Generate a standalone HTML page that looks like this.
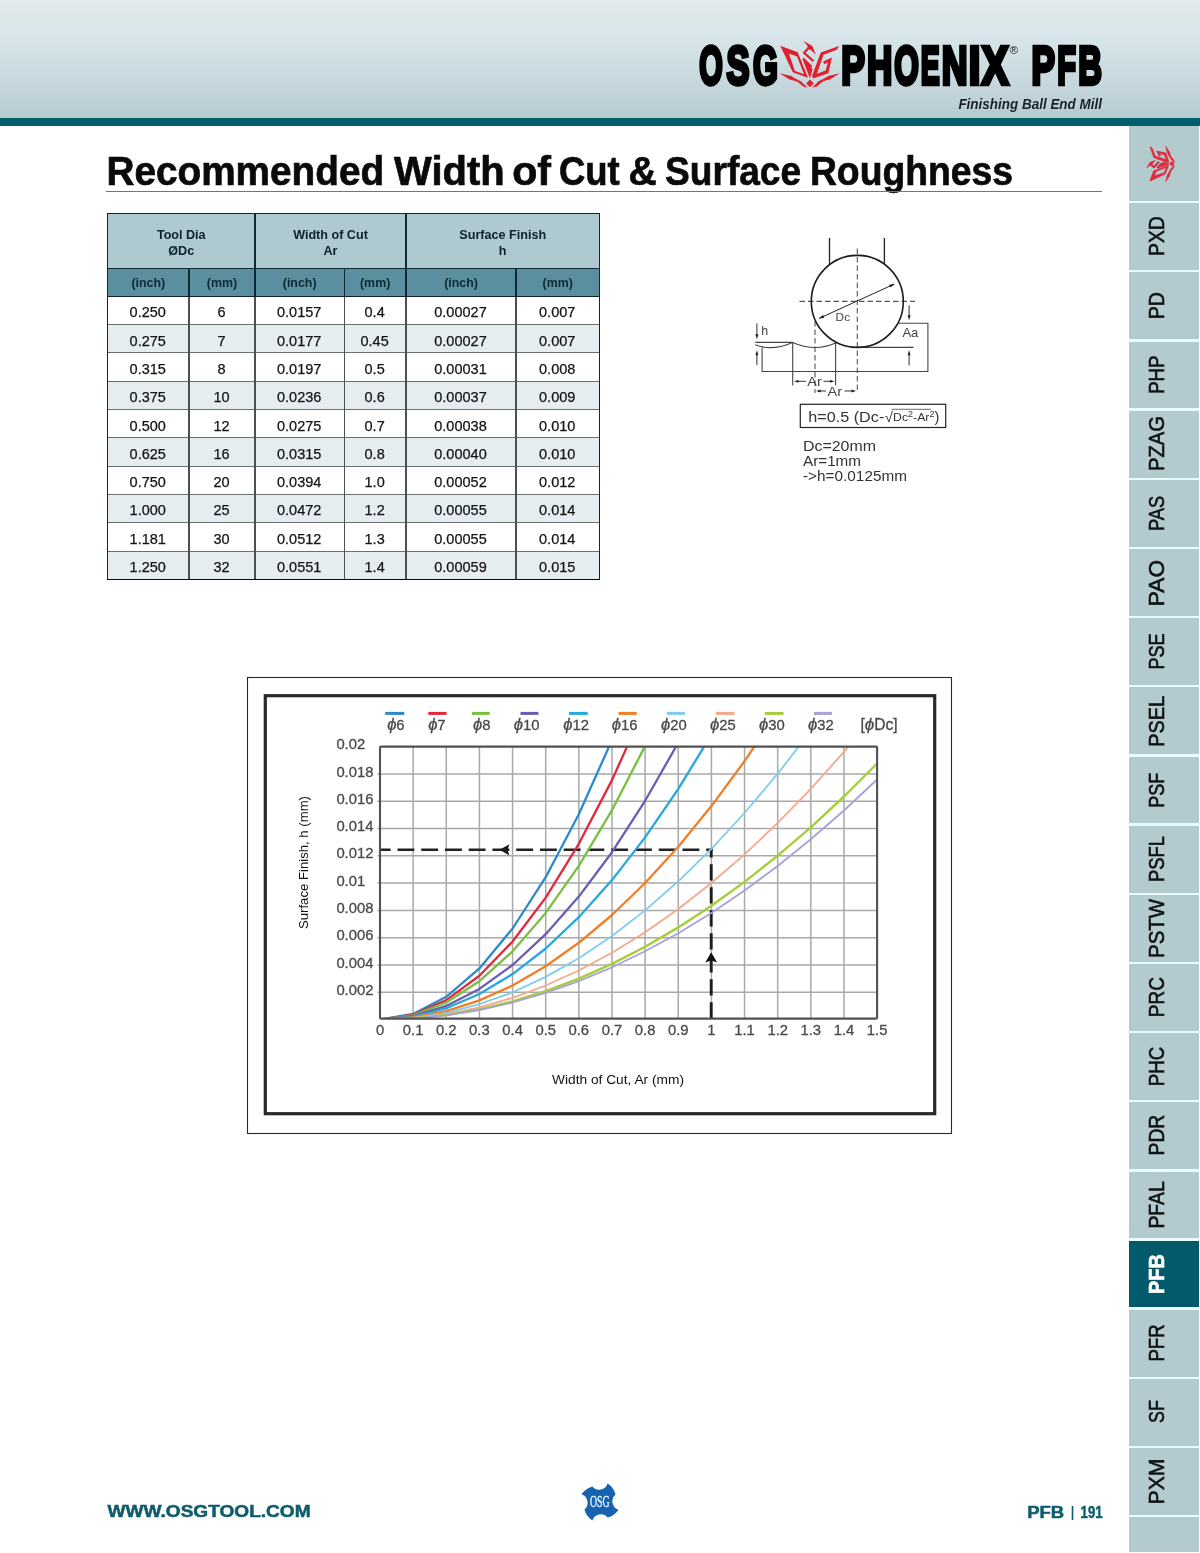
<!DOCTYPE html>
<html lang="en"><head><meta charset="utf-8"><title>OSG PHOENIX PFB Finishing Ball End Mill - Recommended Width of Cut &amp; Surface Roughness</title>
<style>
*{margin:0;padding:0;box-sizing:border-box}
html,body{width:1200px;height:1553px;background:#fff;overflow:hidden}
body{font-family:"Liberation Sans",sans-serif;color:#111;position:relative}
.abs{position:absolute}
#hdr{left:0;top:0;width:1200px;height:118px;background:linear-gradient(to bottom,#e2ebec 0%,#dde8ea 12%,#dae6ec 24%,#d1e2e6 45%,#c8d9df 65%,#bdd0d6 88%,#b4cbd0 100%)}
#bar{left:0;top:118px;width:1200px;height:8px;background:#005e6d}
#rule{left:106.3px;top:190.5px;width:995.7px;height:1.9px;background:#c6505c}
svg{position:absolute;left:0;top:0;overflow:visible}
.tab{position:absolute;left:1129.2px;width:69.8px;background:#b3cacf}
.tab.on{background:#035a6b}
#tbl{left:106px;top:212px;width:496px;height:370px}
.c{position:absolute;text-align:center;white-space:nowrap;overflow:hidden}
.h1{background:#aec9cf;font-weight:bold;font-size:12.6px;line-height:16px;color:#0d2229}
.h2{background:#5b8e9f;font-weight:bold;font-size:12.4px;color:#0a2a33}
.d{font-size:14.5px;color:#141414;-webkit-text-stroke:0.25px #141414}
</style></head>
<body>
<div id="hdr" class="abs"></div><div id="bar" class="abs"></div>
<svg width="1200" height="130" viewBox="0 0 1200 130" aria-label="OSG PHOENIX PFB Finishing Ball End Mill">
<g font-family="Liberation Sans, sans-serif" font-weight="bold" fill="#000" stroke="#000" stroke-width="4.3" stroke-linejoin="miter">
<text y="84.4" font-size="54.5"><tspan x="699.15" textLength="23.52" lengthAdjust="spacingAndGlyphs">O</tspan><tspan x="726.47" textLength="23.02" lengthAdjust="spacingAndGlyphs">S</tspan><tspan x="752.95" textLength="24.87" lengthAdjust="spacingAndGlyphs">G</tspan></text>
<text y="84.4" font-size="54.5"><tspan x="841.13" textLength="23.69" lengthAdjust="spacingAndGlyphs">P</tspan><tspan x="867.04" textLength="25.34" lengthAdjust="spacingAndGlyphs">H</tspan><tspan x="894.15" textLength="24.63" lengthAdjust="spacingAndGlyphs">O</tspan><tspan x="920.72" textLength="18.97" lengthAdjust="spacingAndGlyphs">E</tspan><tspan x="941.72" textLength="25.78" lengthAdjust="spacingAndGlyphs">N</tspan><tspan x="968.86" textLength="11.59" lengthAdjust="spacingAndGlyphs">I</tspan><tspan x="981.73" textLength="26.74" lengthAdjust="spacingAndGlyphs">X</tspan></text>
<text y="84.4" font-size="54.5"><tspan x="1031.53" textLength="23.48" lengthAdjust="spacingAndGlyphs">P</tspan><tspan x="1057.36" textLength="18.76" lengthAdjust="spacingAndGlyphs">F</tspan><tspan x="1078.30" textLength="23.70" lengthAdjust="spacingAndGlyphs">B</tspan></text>
</g>
<text x="1009.6" y="53.8" font-family="Liberation Sans, sans-serif" font-size="11.5" fill="#222">®</text>
<text x="1102" y="108.5" text-anchor="end" font-family="Liberation Sans, sans-serif" font-weight="bold" font-style="italic" font-size="14.3" fill="#17222c" textLength="143.6" lengthAdjust="spacingAndGlyphs">Finishing Ball End Mill</text>
<g transform="translate(775,35) rotate(0) scale(0.05833)" fill="#e0202c" stroke="#e0202c" stroke-width="0" stroke-linejoin="round">
<path fill-rule="evenodd" d="M90 185 L390 295 L565 735 L305 640 Z M240 318 L378 368 L498 672 L338 612 Z"/>
<path d="M1100 190 L1060 252 L832 338 L718 665 L868 610 L908 468 L842 500 L826 455 L975 385 L915 655 L655 745 L635 700 L785 300 Z"/>
<path d="M485 100 L640 190 L700 340 L610 255 L545 250 L560 190 Z"/>
<path d="M560 240 L500 305 L660 450 M480 405 L625 545" fill="none" stroke="#e0202c" stroke-width="40"/>
<path d="M475 420 L645 585 L600 745 Z"/>
<path d="M80 655 L280 705 L400 800 L250 762 Z"/>
<path d="M300 722 L440 795 L560 900 L490 888 L390 806 Z"/>
<path d="M1110 655 L910 705 L790 800 L940 762 Z"/>
<path d="M890 722 L750 795 L640 900 L710 888 L810 806 Z"/>
<path d="M600 765 L665 830 L600 895 L535 830 Z"/>
</g>
</svg>
<svg width="1200" height="200" viewBox="0 0 1200 200"><g font-family="Liberation Sans, sans-serif" font-weight="bold" font-size="41" fill="#0a0a0a" stroke="#0a0a0a" stroke-width="0.7"><text x="106.5" y="185" textLength="277.6" lengthAdjust="spacingAndGlyphs">Recommended</text><text x="394.1" y="185" textLength="110.6" lengthAdjust="spacingAndGlyphs">Width</text><text x="512.2" y="185" textLength="38.8" lengthAdjust="spacingAndGlyphs">of</text><text x="558.9" y="185" textLength="60.8" lengthAdjust="spacingAndGlyphs">Cut</text><text x="628.4" y="185" textLength="28.2" lengthAdjust="spacingAndGlyphs">&amp;</text><text x="665.1" y="185" textLength="136.0" lengthAdjust="spacingAndGlyphs">Surface</text><text x="809.9" y="185" textLength="203.2" lengthAdjust="spacingAndGlyphs">Roughness</text></g></svg>
<div id="rule" class="abs"></div>
<div class="abs" style="left:1129.2px;top:126px;width:69.8px;height:1426px;background:#e9fbfc"></div><div class="tab" style="top:126px;height:74.9px"></div>
<div class="tab" style="top:203.30px;height:66.80px"></div>
<div class="tab" style="top:272.46px;height:66.80px"></div>
<div class="tab" style="top:341.62px;height:66.80px"></div>
<div class="tab" style="top:410.78px;height:66.80px"></div>
<div class="tab" style="top:479.94px;height:66.80px"></div>
<div class="tab" style="top:549.10px;height:66.80px"></div>
<div class="tab" style="top:618.26px;height:66.80px"></div>
<div class="tab" style="top:687.42px;height:66.80px"></div>
<div class="tab" style="top:756.58px;height:66.80px"></div>
<div class="tab" style="top:825.74px;height:66.80px"></div>
<div class="tab" style="top:894.90px;height:66.80px"></div>
<div class="tab" style="top:964.06px;height:66.80px"></div>
<div class="tab" style="top:1033.22px;height:66.80px"></div>
<div class="tab" style="top:1102.38px;height:66.80px"></div>
<div class="tab" style="top:1171.54px;height:66.80px"></div>
<div class="tab on" style="top:1240.70px;height:66.80px"></div>
<div class="tab" style="top:1309.86px;height:66.80px"></div>
<div class="tab" style="top:1379.02px;height:66.80px"></div>
<div class="tab" style="top:1448.18px;height:66.80px"></div>
<div class="tab" style="top:1517.34px;height:34.66px"></div>
<svg width="1200" height="1553" viewBox="0 0 1200 1553"><g font-family="Liberation Sans, sans-serif" font-size="22.9" fill="#0d1214" stroke="#0d1214" stroke-width="0.6"><text transform="translate(1163.5,256.01) rotate(-90)" textLength="39.75" lengthAdjust="spacingAndGlyphs">PXD</text><text transform="translate(1163.5,319.37) rotate(-90)" textLength="27.13" lengthAdjust="spacingAndGlyphs">PD</text><text transform="translate(1163.5,393.81) rotate(-90)" textLength="38.33" lengthAdjust="spacingAndGlyphs">PHP</text><text transform="translate(1163.5,471.10) rotate(-90)" textLength="55.02" lengthAdjust="spacingAndGlyphs">PZAG</text><text transform="translate(1163.5,531.08) rotate(-90)" textLength="35.14" lengthAdjust="spacingAndGlyphs">PAS</text><text transform="translate(1163.5,606.13) rotate(-90)" textLength="46.16" lengthAdjust="spacingAndGlyphs">PAO</text><text transform="translate(1163.5,669.52) rotate(-90)" textLength="36.18" lengthAdjust="spacingAndGlyphs">PSE</text><text transform="translate(1163.5,746.82) rotate(-90)" textLength="50.77" lengthAdjust="spacingAndGlyphs">PSEL</text><text transform="translate(1163.5,807.69) rotate(-90)" textLength="35.00" lengthAdjust="spacingAndGlyphs">PSF</text><text transform="translate(1163.5,882.00) rotate(-90)" textLength="46.01" lengthAdjust="spacingAndGlyphs">PSFL</text><text transform="translate(1163.5,957.96) rotate(-90)" textLength="59.16" lengthAdjust="spacingAndGlyphs">PSTW</text><text transform="translate(1163.5,1017.13) rotate(-90)" textLength="40.15" lengthAdjust="spacingAndGlyphs">PRC</text><text transform="translate(1163.5,1086.16) rotate(-90)" textLength="39.35" lengthAdjust="spacingAndGlyphs">PHC</text><text transform="translate(1163.5,1155.47) rotate(-90)" textLength="40.77" lengthAdjust="spacingAndGlyphs">PDR</text><text transform="translate(1163.5,1228.57) rotate(-90)" textLength="47.36" lengthAdjust="spacingAndGlyphs">PFAL</text><text transform="translate(1163.5,1293.94) rotate(-90)" textLength="39.80" lengthAdjust="spacingAndGlyphs" font-weight="bold" fill="#fff" stroke="#fff">PFB</text><text transform="translate(1163.5,1361.56) rotate(-90)" textLength="37.20" lengthAdjust="spacingAndGlyphs">PFR</text><text transform="translate(1163.5,1422.94) rotate(-90)" textLength="22.79" lengthAdjust="spacingAndGlyphs">SF</text><text transform="translate(1163.5,1504.38) rotate(-90)" textLength="45.88" lengthAdjust="spacingAndGlyphs">PXM</text></g></svg>
<svg width="1200" height="220" viewBox="0 0 1200 220"><g transform="translate(1143.6,184.2) rotate(-90) scale(0.034)" fill="#e02a3a" stroke="#e02a3a" stroke-width="22" stroke-linejoin="round">
<path fill-rule="evenodd" d="M90 185 L390 295 L565 735 L305 640 Z M240 318 L378 368 L498 672 L338 612 Z"/>
<path d="M1100 190 L1060 252 L832 338 L718 665 L868 610 L908 468 L842 500 L826 455 L975 385 L915 655 L655 745 L635 700 L785 300 Z"/>
<path d="M485 100 L640 190 L700 340 L610 255 L545 250 L560 190 Z"/>
<path d="M560 240 L500 305 L660 450 M480 405 L625 545" fill="none" stroke="#e02a3a" stroke-width="62"/>
<path d="M475 420 L645 585 L600 745 Z"/>
<path d="M80 655 L280 705 L400 800 L250 762 Z"/>
<path d="M300 722 L440 795 L560 900 L490 888 L390 806 Z"/>
<path d="M1110 655 L910 705 L790 800 L940 762 Z"/>
<path d="M890 722 L750 795 L640 900 L710 888 L810 806 Z"/>
<path d="M600 765 L665 830 L600 895 L535 830 Z"/>
</g></svg>
<div id="tbl" class="abs"><div class="c h1" style="left:1.50px;top:1.70px;width:147.50px;height:54.60px;padding-top:13.3px">Tool Dia<br>ØDc</div>
<div class="c h1" style="left:149.00px;top:1.70px;width:151.00px;height:54.60px;padding-top:13.3px">Width of Cut<br>Ar</div>
<div class="c h1" style="left:300.00px;top:1.70px;width:193.40px;height:54.60px;padding-top:13.3px">Surface Finish<br>h</div>
<div class="c h2" style="left:1.50px;top:56.30px;width:81.50px;height:28.00px;line-height:31.60px">(inch)</div>
<div class="c h2" style="left:83.00px;top:56.30px;width:66.00px;height:28.00px;line-height:31.60px">(mm)</div>
<div class="c h2" style="left:149.00px;top:56.30px;width:89.30px;height:28.00px;line-height:31.60px">(inch)</div>
<div class="c h2" style="left:238.30px;top:56.30px;width:61.70px;height:28.00px;line-height:31.60px">(mm)</div>
<div class="c h2" style="left:300.00px;top:56.30px;width:110.00px;height:28.00px;line-height:31.60px">(inch)</div>
<div class="c h2" style="left:410.00px;top:56.30px;width:83.40px;height:28.00px;line-height:31.60px">(mm)</div>
<div class="c d" style="left:1.50px;top:84.30px;width:81.50px;height:28.31px;background:#fff;line-height:32.71px;padding-right:1px">0.250</div>
<div class="c d" style="left:83.00px;top:84.30px;width:66.00px;height:28.31px;background:#fff;line-height:32.71px;padding-right:1px">6</div>
<div class="c d" style="left:149.00px;top:84.30px;width:89.30px;height:28.31px;background:#fff;line-height:32.71px;padding-right:1px">0.0157</div>
<div class="c d" style="left:238.30px;top:84.30px;width:61.70px;height:28.31px;background:#fff;line-height:32.71px;padding-right:1px">0.4</div>
<div class="c d" style="left:300.00px;top:84.30px;width:110.00px;height:28.31px;background:#fff;line-height:32.71px;padding-right:1px">0.00027</div>
<div class="c d" style="left:410.00px;top:84.30px;width:83.40px;height:28.31px;background:#fff;line-height:32.71px;padding-right:1px">0.007</div>
<div class="c d" style="left:1.50px;top:112.61px;width:81.50px;height:28.31px;background:#e5edf0;line-height:32.65px;padding-right:1px">0.275</div>
<div class="c d" style="left:83.00px;top:112.61px;width:66.00px;height:28.31px;background:#e5edf0;line-height:32.65px;padding-right:1px">7</div>
<div class="c d" style="left:149.00px;top:112.61px;width:89.30px;height:28.31px;background:#e5edf0;line-height:32.65px;padding-right:1px">0.0177</div>
<div class="c d" style="left:238.30px;top:112.61px;width:61.70px;height:28.31px;background:#e5edf0;line-height:32.65px;padding-right:1px">0.45</div>
<div class="c d" style="left:300.00px;top:112.61px;width:110.00px;height:28.31px;background:#e5edf0;line-height:32.65px;padding-right:1px">0.00027</div>
<div class="c d" style="left:410.00px;top:112.61px;width:83.40px;height:28.31px;background:#e5edf0;line-height:32.65px;padding-right:1px">0.007</div>
<div class="c d" style="left:1.50px;top:140.92px;width:81.50px;height:28.31px;background:#fff;line-height:32.59px;padding-right:1px">0.315</div>
<div class="c d" style="left:83.00px;top:140.92px;width:66.00px;height:28.31px;background:#fff;line-height:32.59px;padding-right:1px">8</div>
<div class="c d" style="left:149.00px;top:140.92px;width:89.30px;height:28.31px;background:#fff;line-height:32.59px;padding-right:1px">0.0197</div>
<div class="c d" style="left:238.30px;top:140.92px;width:61.70px;height:28.31px;background:#fff;line-height:32.59px;padding-right:1px">0.5</div>
<div class="c d" style="left:300.00px;top:140.92px;width:110.00px;height:28.31px;background:#fff;line-height:32.59px;padding-right:1px">0.00031</div>
<div class="c d" style="left:410.00px;top:140.92px;width:83.40px;height:28.31px;background:#fff;line-height:32.59px;padding-right:1px">0.008</div>
<div class="c d" style="left:1.50px;top:169.23px;width:81.50px;height:28.31px;background:#e5edf0;line-height:32.53px;padding-right:1px">0.375</div>
<div class="c d" style="left:83.00px;top:169.23px;width:66.00px;height:28.31px;background:#e5edf0;line-height:32.53px;padding-right:1px">10</div>
<div class="c d" style="left:149.00px;top:169.23px;width:89.30px;height:28.31px;background:#e5edf0;line-height:32.53px;padding-right:1px">0.0236</div>
<div class="c d" style="left:238.30px;top:169.23px;width:61.70px;height:28.31px;background:#e5edf0;line-height:32.53px;padding-right:1px">0.6</div>
<div class="c d" style="left:300.00px;top:169.23px;width:110.00px;height:28.31px;background:#e5edf0;line-height:32.53px;padding-right:1px">0.00037</div>
<div class="c d" style="left:410.00px;top:169.23px;width:83.40px;height:28.31px;background:#e5edf0;line-height:32.53px;padding-right:1px">0.009</div>
<div class="c d" style="left:1.50px;top:197.54px;width:81.50px;height:28.31px;background:#fff;line-height:32.47px;padding-right:1px">0.500</div>
<div class="c d" style="left:83.00px;top:197.54px;width:66.00px;height:28.31px;background:#fff;line-height:32.47px;padding-right:1px">12</div>
<div class="c d" style="left:149.00px;top:197.54px;width:89.30px;height:28.31px;background:#fff;line-height:32.47px;padding-right:1px">0.0275</div>
<div class="c d" style="left:238.30px;top:197.54px;width:61.70px;height:28.31px;background:#fff;line-height:32.47px;padding-right:1px">0.7</div>
<div class="c d" style="left:300.00px;top:197.54px;width:110.00px;height:28.31px;background:#fff;line-height:32.47px;padding-right:1px">0.00038</div>
<div class="c d" style="left:410.00px;top:197.54px;width:83.40px;height:28.31px;background:#fff;line-height:32.47px;padding-right:1px">0.010</div>
<div class="c d" style="left:1.50px;top:225.85px;width:81.50px;height:28.31px;background:#e5edf0;line-height:32.41px;padding-right:1px">0.625</div>
<div class="c d" style="left:83.00px;top:225.85px;width:66.00px;height:28.31px;background:#e5edf0;line-height:32.41px;padding-right:1px">16</div>
<div class="c d" style="left:149.00px;top:225.85px;width:89.30px;height:28.31px;background:#e5edf0;line-height:32.41px;padding-right:1px">0.0315</div>
<div class="c d" style="left:238.30px;top:225.85px;width:61.70px;height:28.31px;background:#e5edf0;line-height:32.41px;padding-right:1px">0.8</div>
<div class="c d" style="left:300.00px;top:225.85px;width:110.00px;height:28.31px;background:#e5edf0;line-height:32.41px;padding-right:1px">0.00040</div>
<div class="c d" style="left:410.00px;top:225.85px;width:83.40px;height:28.31px;background:#e5edf0;line-height:32.41px;padding-right:1px">0.010</div>
<div class="c d" style="left:1.50px;top:254.16px;width:81.50px;height:28.31px;background:#fff;line-height:32.35px;padding-right:1px">0.750</div>
<div class="c d" style="left:83.00px;top:254.16px;width:66.00px;height:28.31px;background:#fff;line-height:32.35px;padding-right:1px">20</div>
<div class="c d" style="left:149.00px;top:254.16px;width:89.30px;height:28.31px;background:#fff;line-height:32.35px;padding-right:1px">0.0394</div>
<div class="c d" style="left:238.30px;top:254.16px;width:61.70px;height:28.31px;background:#fff;line-height:32.35px;padding-right:1px">1.0</div>
<div class="c d" style="left:300.00px;top:254.16px;width:110.00px;height:28.31px;background:#fff;line-height:32.35px;padding-right:1px">0.00052</div>
<div class="c d" style="left:410.00px;top:254.16px;width:83.40px;height:28.31px;background:#fff;line-height:32.35px;padding-right:1px">0.012</div>
<div class="c d" style="left:1.50px;top:282.47px;width:81.50px;height:28.31px;background:#e5edf0;line-height:32.29px;padding-right:1px">1.000</div>
<div class="c d" style="left:83.00px;top:282.47px;width:66.00px;height:28.31px;background:#e5edf0;line-height:32.29px;padding-right:1px">25</div>
<div class="c d" style="left:149.00px;top:282.47px;width:89.30px;height:28.31px;background:#e5edf0;line-height:32.29px;padding-right:1px">0.0472</div>
<div class="c d" style="left:238.30px;top:282.47px;width:61.70px;height:28.31px;background:#e5edf0;line-height:32.29px;padding-right:1px">1.2</div>
<div class="c d" style="left:300.00px;top:282.47px;width:110.00px;height:28.31px;background:#e5edf0;line-height:32.29px;padding-right:1px">0.00055</div>
<div class="c d" style="left:410.00px;top:282.47px;width:83.40px;height:28.31px;background:#e5edf0;line-height:32.29px;padding-right:1px">0.014</div>
<div class="c d" style="left:1.50px;top:310.78px;width:81.50px;height:28.31px;background:#fff;line-height:32.23px;padding-right:1px">1.181</div>
<div class="c d" style="left:83.00px;top:310.78px;width:66.00px;height:28.31px;background:#fff;line-height:32.23px;padding-right:1px">30</div>
<div class="c d" style="left:149.00px;top:310.78px;width:89.30px;height:28.31px;background:#fff;line-height:32.23px;padding-right:1px">0.0512</div>
<div class="c d" style="left:238.30px;top:310.78px;width:61.70px;height:28.31px;background:#fff;line-height:32.23px;padding-right:1px">1.3</div>
<div class="c d" style="left:300.00px;top:310.78px;width:110.00px;height:28.31px;background:#fff;line-height:32.23px;padding-right:1px">0.00055</div>
<div class="c d" style="left:410.00px;top:310.78px;width:83.40px;height:28.31px;background:#fff;line-height:32.23px;padding-right:1px">0.014</div>
<div class="c d" style="left:1.50px;top:339.09px;width:81.50px;height:28.31px;background:#e5edf0;line-height:32.17px;padding-right:1px">1.250</div>
<div class="c d" style="left:83.00px;top:339.09px;width:66.00px;height:28.31px;background:#e5edf0;line-height:32.17px;padding-right:1px">32</div>
<div class="c d" style="left:149.00px;top:339.09px;width:89.30px;height:28.31px;background:#e5edf0;line-height:32.17px;padding-right:1px">0.0551</div>
<div class="c d" style="left:238.30px;top:339.09px;width:61.70px;height:28.31px;background:#e5edf0;line-height:32.17px;padding-right:1px">1.4</div>
<div class="c d" style="left:300.00px;top:339.09px;width:110.00px;height:28.31px;background:#e5edf0;line-height:32.17px;padding-right:1px">0.00059</div>
<div class="c d" style="left:410.00px;top:339.09px;width:83.40px;height:28.31px;background:#e5edf0;line-height:32.17px;padding-right:1px">0.015</div>
<div class="abs" style="left:1.50px;top:112.06px;width:491.90px;height:1.10px;background:#6a6f72"></div>
<div class="abs" style="left:1.50px;top:140.37px;width:491.90px;height:1.10px;background:#6a6f72"></div>
<div class="abs" style="left:1.50px;top:168.68px;width:491.90px;height:1.10px;background:#6a6f72"></div>
<div class="abs" style="left:1.50px;top:196.99px;width:491.90px;height:1.10px;background:#6a6f72"></div>
<div class="abs" style="left:1.50px;top:225.30px;width:491.90px;height:1.10px;background:#6a6f72"></div>
<div class="abs" style="left:1.50px;top:253.61px;width:491.90px;height:1.10px;background:#6a6f72"></div>
<div class="abs" style="left:1.50px;top:281.92px;width:491.90px;height:1.10px;background:#6a6f72"></div>
<div class="abs" style="left:1.50px;top:310.23px;width:491.90px;height:1.10px;background:#6a6f72"></div>
<div class="abs" style="left:1.50px;top:338.54px;width:491.90px;height:1.10px;background:#6a6f72"></div>
<div class="abs" style="left:82.40px;top:84.30px;width:1.20px;height:283.10px;background:#4a5053"></div>
<div class="abs" style="left:148.40px;top:84.30px;width:1.20px;height:283.10px;background:#4a5053"></div>
<div class="abs" style="left:237.70px;top:84.30px;width:1.20px;height:283.10px;background:#4a5053"></div>
<div class="abs" style="left:299.40px;top:84.30px;width:1.20px;height:283.10px;background:#4a5053"></div>
<div class="abs" style="left:409.40px;top:84.30px;width:1.20px;height:283.10px;background:#4a5053"></div>
<div class="abs" style="left:82.25px;top:56.30px;width:1.50px;height:28.00px;background:#0e2a33"></div>
<div class="abs" style="left:148.25px;top:1.70px;width:1.50px;height:82.60px;background:#0e2a33"></div>
<div class="abs" style="left:237.55px;top:56.30px;width:1.50px;height:28.00px;background:#0e2a33"></div>
<div class="abs" style="left:299.25px;top:1.70px;width:1.50px;height:82.60px;background:#0e2a33"></div>
<div class="abs" style="left:409.25px;top:56.30px;width:1.50px;height:28.00px;background:#0e2a33"></div>
<div class="abs" style="left:1.50px;top:55.60px;width:491.90px;height:1.40px;background:#0e2a33"></div>
<div class="abs" style="left:1.50px;top:83.50px;width:491.90px;height:1.60px;background:#0e2229"></div>
<div class="abs" style="left:0.80px;top:1.00px;width:493.30px;height:1.40px;background:#14252b"></div>
<div class="abs" style="left:0.85px;top:1.70px;width:1.30px;height:365.70px;background:#1d2427"></div>
<div class="abs" style="left:492.75px;top:1.70px;width:1.30px;height:365.70px;background:#1d2427"></div>
<div class="abs" style="left:0.80px;top:366.50px;width:493.30px;height:1.80px;background:#0a0a0a"></div></div>
<svg width="1200" height="520" viewBox="0 0 1200 520">
<g fill="none" stroke="#333" stroke-width="1.1">
<path d="M829.5 238 V264.8 M884.4 238 V264.8" stroke-width="1.3" stroke="#222"/>
<path d="M857.3 248.5 V393" stroke-dasharray="5.5 3" stroke="#555"/>
<path d="M799.5 301.4 H915" stroke-dasharray="5.5 3" stroke="#555"/>
<path d="M815 321 V393" stroke-dasharray="5.5 3" stroke="#555"/>
<path d="M819.5 318.2 L894 284.2" stroke="#222" stroke-width="1"/>
<path d="M898.6 323.2 H927.9 V371.5 H762.1 V347.6" stroke="#444" stroke-width="1.1"/>
<path d="M857.3 347.4 H913.5" stroke="#444" stroke-width="1.1"/>
<path d="M755.3 342.4 H792.7" stroke="#444"/>
<path d="M755.3 344.8 Q772 351.5 792.7 342.4 Q814.5 352.2 835.6 343" stroke="#444"/>
<path d="M792.7 342.4 V385.5 M835.6 343 V385.5" stroke="#444"/>
<path d="M756.9 323.3 V336 M756.9 365 V353" stroke="#333" stroke-width="1"/>
<path d="M909.1 305.3 V317 M909.1 365.4 V353" stroke="#333" stroke-width="1"/>
<path d="M796 381.3 H806 M823.5 381.3 H832 M818 391 H826 M844.5 391 H853" stroke="#333" stroke-width="1"/>
</g>
<circle cx="857.3" cy="301.4" r="46.0" fill="none" stroke="#1c1c1c" stroke-width="1.6"/>
<polygon points="895.2,283.7 890.4,287.6 889.1,284.7" fill="#222" stroke="none"/>
<polygon points="818.3,318.8 823.1,314.9 824.4,317.8" fill="#222" stroke="none"/>
<polygon points="756.9,339.3 755.4,334.3 758.4,334.3" fill="#222" stroke="none"/>
<polygon points="756.9,350.2 758.4,355.2 755.4,355.2" fill="#222" stroke="none"/>
<polygon points="909.1,320.3 907.6,315.3 910.6,315.3" fill="#222" stroke="none"/>
<polygon points="909.1,350.2 910.6,355.2 907.6,355.2" fill="#222" stroke="none"/>
<polygon points="794.0,381.3 798.5,379.9 798.5,382.7" fill="#222" stroke="none"/>
<polygon points="834.5,381.3 830.0,382.7 830.0,379.9" fill="#222" stroke="none"/>
<polygon points="816.2,391.0 820.7,389.6 820.7,392.4" fill="#222" stroke="none"/>
<polygon points="856.0,391.0 851.5,392.4 851.5,389.6" fill="#222" stroke="none"/>
<g font-family="Liberation Sans, sans-serif" fill="#444">
<text x="835.6" y="320.6" font-size="10.2" textLength="14.5" lengthAdjust="spacingAndGlyphs">Dc</text>
<text x="902.4" y="337.4" font-size="12.4" textLength="16" lengthAdjust="spacingAndGlyphs">Aa</text>
<text x="761.2" y="334.8" font-size="12.4">h</text>
<text x="807.3" y="385.6" font-size="13" textLength="14.5" lengthAdjust="spacingAndGlyphs">Ar</text>
<text x="827.6" y="395.8" font-size="13" textLength="14.5" lengthAdjust="spacingAndGlyphs">Ar</text>
</g>
<rect x="800.3" y="404.3" width="145.4" height="23.2" fill="#fff" stroke="#222" stroke-width="1.2"/>
<g font-family="Liberation Sans, sans-serif" fill="#333">
<text x="808.3" y="421.6" font-size="14.8" textLength="76" lengthAdjust="spacingAndGlyphs">h=0.5 (Dc-</text>
<text x="884.8" y="421.6" font-size="14.5" textLength="8.2" lengthAdjust="spacingAndGlyphs">√</text>
<text x="893" y="421.3" font-size="11.2" textLength="41.5" lengthAdjust="spacingAndGlyphs">Dc<tspan dy="-4" font-size="8.2">2</tspan><tspan dy="4">-Ar</tspan><tspan dy="-4" font-size="8.2">2</tspan></text>
<text x="934.6" y="421.6" font-size="14.8">)</text>
</g>
<path d="M891.6 409.3 H931" stroke="#444" stroke-width="0.8" fill="none"/>
<g font-family="Liberation Sans, sans-serif" fill="#333" font-size="14.4">
<text x="803" y="450.8" textLength="73" lengthAdjust="spacingAndGlyphs">Dc=20mm</text>
<text x="803" y="465.6" textLength="58" lengthAdjust="spacingAndGlyphs">Ar=1mm</text>
<text x="803" y="480.8" textLength="104" lengthAdjust="spacingAndGlyphs">-&gt;h=0.0125mm</text>
</g>
</svg>
<svg width="1200" height="1553" viewBox="0 0 1200 1553">
<defs><clipPath id="pc"><rect x="380.0" y="746.1" width="497.9" height="272.5"/></clipPath></defs>
<rect x="247.5" y="677.5" width="704" height="456" fill="#fff" stroke="#2a2a2a" stroke-width="1.1"/>
<rect x="265.3" y="695.7" width="669.4" height="418" fill="#fff" stroke="#2b2829" stroke-width="3.2"/>
<path d="M413.14 746.6 V1018.6 M446.28 746.6 V1018.6 M479.42 746.6 V1018.6 M512.56 746.6 V1018.6 M545.70 746.6 V1018.6 M578.84 746.6 V1018.6 M611.98 746.6 V1018.6 M645.12 746.6 V1018.6 M678.26 746.6 V1018.6 M711.40 746.6 V1018.6 M744.54 746.6 V1018.6 M777.68 746.6 V1018.6 M810.82 746.6 V1018.6 M843.96 746.6 V1018.6 M377.5 992.30 H877.1 M377.5 965.00 H877.1 M377.5 937.70 H877.1 M377.5 910.40 H877.1 M377.5 883.10 H877.1 M377.5 855.80 H877.1 M377.5 828.50 H877.1 M377.5 801.20 H877.1 M377.5 773.90 H877.1" fill="none" stroke="#a9a9a9" stroke-width="1.5"/>
<path d="M380.0 849.8 H712.5" fill="none" stroke="#222" stroke-width="2.6" stroke-dasharray="16.9 6.85" stroke-dashoffset="6.3"/>
<path d="M711.2 1018.6 V848.5" fill="none" stroke="#1c1c1c" stroke-width="2.9" stroke-dasharray="16.3 6.7"/>
<polygon points="499.6,849.8 509.4,844.1999999999999 507.6,849.8 509.4,855.4" fill="#1a1a1a"/>
<polygon points="711.2,952.3 705.3,962.6 711.2,960.6 717.1,962.6" fill="#111"/>
<g clip-path="url(#pc)" fill="none" stroke-linejoin="round">
<polyline points="380.0,1019.6 413.1,1013.9 446.3,996.8 479.4,968.4 512.6,928.5 545.7,877.2 578.8,814.3 612.0,740.0 645.1,654.0" stroke="#2a8bcb" stroke-width="2.3"/>
<polyline points="380.0,1019.6 413.1,1014.7 446.3,1000.1 479.4,975.7 512.6,941.5 545.7,897.6 578.8,843.8 612.0,780.1 645.1,706.6 678.3,623.1" stroke="#e2283d" stroke-width="2.3"/>
<polyline points="380.0,1019.6 413.1,1015.3 446.3,1002.5 479.4,981.2 512.6,951.3 545.7,912.9 578.8,865.8 612.0,810.2 645.1,745.9 678.3,673.0" stroke="#7bbf42" stroke-width="2.3"/>
<polyline points="380.0,1019.6 413.1,1016.2 446.3,1005.9 479.4,988.9 512.6,965.0 545.7,934.2 578.8,896.6 612.0,852.2 645.1,800.8 678.3,742.6 711.4,677.5" stroke="#6a5cb2" stroke-width="2.3"/>
<polyline points="380.0,1019.6 413.1,1016.8 446.3,1008.2 479.4,994.0 512.6,974.1 545.7,948.5 578.8,917.2 612.0,880.1 645.1,837.4 678.3,788.9 711.4,734.7 744.5,674.8" stroke="#25a8e0" stroke-width="2.3"/>
<polyline points="380.0,1019.6 413.1,1017.5 446.3,1011.1 479.4,1000.4 512.6,985.5 545.7,966.3 578.8,942.8 612.0,915.0 645.1,883.0 678.3,846.7 711.4,806.1 744.5,761.2 777.7,712.0 810.8,658.6" stroke="#f07e26" stroke-width="2.3"/>
<polyline points="380.0,1019.6 413.1,1017.9 446.3,1012.8 479.4,1004.2 512.6,992.3 545.7,976.9 578.8,958.2 612.0,936.0 645.1,910.4 678.3,881.3 711.4,848.9 744.5,813.0 777.7,773.7 810.8,730.9 844.0,684.8" stroke="#7fcdee" stroke-width="1.8"/>
<polyline points="380.0,1019.6 413.1,1018.2 446.3,1014.1 479.4,1007.3 512.6,997.8 545.7,985.5 578.8,970.5 612.0,952.7 645.1,932.2 678.3,909.0 711.4,883.0 744.5,854.4 777.7,822.9 810.8,788.8 844.0,751.8 877.1,712.2" stroke="#f5a98c" stroke-width="1.8"/>
<polyline points="380.0,1019.6 413.1,1018.5 446.3,1015.0 479.4,1009.4 512.6,1001.4 545.7,991.2 578.8,978.6 612.0,963.9 645.1,946.8 678.3,927.4 711.4,905.8 744.5,881.9 777.7,855.7 810.8,827.3 844.0,796.5 877.1,763.5" stroke="#a6ce39" stroke-width="2.4"/>
<polyline points="380.0,1019.6 413.1,1018.5 446.3,1015.3 479.4,1010.0 512.6,1002.5 545.7,992.9 578.8,981.2 612.0,967.3 645.1,951.3 678.3,933.2 711.4,912.9 744.5,890.5 777.7,866.0 810.8,839.3 844.0,810.5 877.1,779.5" stroke="#a8a0d8" stroke-width="1.8"/>
</g>
<rect x="380.0" y="746.6" width="497.1" height="272.0" rx="1" fill="none" stroke="#515151" stroke-width="2.1"/>
<path d="M385.2 713.4 H404.3" stroke="#2a8bcb" stroke-width="3" fill="none"/>
<path d="M428.3 713.4 H446.5" stroke="#e2283d" stroke-width="3" fill="none"/>
<path d="M472 713.4 H489.7" stroke="#7bbf42" stroke-width="3" fill="none"/>
<path d="M520.5 713.4 H538.5" stroke="#6a5cb2" stroke-width="3" fill="none"/>
<path d="M569 713.4 H587.7" stroke="#25a8e0" stroke-width="3" fill="none"/>
<path d="M618.5 713.4 H636.7" stroke="#f07e26" stroke-width="3" fill="none"/>
<path d="M666.8 713.4 H685" stroke="#7fcdee" stroke-width="3" fill="none"/>
<path d="M715.8 713.4 H734.5" stroke="#f5a98c" stroke-width="3" fill="none"/>
<path d="M764.8 713.4 H783.5" stroke="#a6ce39" stroke-width="3" fill="none"/>
<path d="M813.8 713.4 H832" stroke="#a8a0d8" stroke-width="3" fill="none"/>
<g font-family="Liberation Sans, sans-serif" font-size="14.8" fill="#4a4a4a" stroke="#4a4a4a" stroke-width="0.3" text-anchor="end">
<text x="404.6" y="730.2"><tspan font-style="italic" font-size="16.6">ϕ</tspan>6</text>
<text x="445.6" y="730.2"><tspan font-style="italic" font-size="16.6">ϕ</tspan>7</text>
<text x="490.4" y="730.2"><tspan font-style="italic" font-size="16.6">ϕ</tspan>8</text>
<text x="539.4" y="730.2"><tspan font-style="italic" font-size="16.6">ϕ</tspan>10</text>
<text x="589" y="730.2"><tspan font-style="italic" font-size="16.6">ϕ</tspan>12</text>
<text x="637.4" y="730.2"><tspan font-style="italic" font-size="16.6">ϕ</tspan>16</text>
<text x="686.8" y="730.2"><tspan font-style="italic" font-size="16.6">ϕ</tspan>20</text>
<text x="735.8" y="730.2"><tspan font-style="italic" font-size="16.6">ϕ</tspan>25</text>
<text x="784.8" y="730.2"><tspan font-style="italic" font-size="16.6">ϕ</tspan>30</text>
<text x="833.8" y="730.2"><tspan font-style="italic" font-size="16.6">ϕ</tspan>32</text>
<text x="897.6" y="730.2" font-size="15.6">[<tspan font-style="italic" font-size="17">ϕ</tspan>Dc]</text>
</g>
<g font-family="Liberation Sans, sans-serif" font-size="14.8" fill="#4a4a4a" stroke="#4a4a4a" stroke-width="0.3">
<text x="336.4" y="994.9">0.002</text>
<text x="336.4" y="967.6">0.004</text>
<text x="336.4" y="940.3">0.006</text>
<text x="336.4" y="913.0">0.008</text>
<text x="336.4" y="885.7">0.01</text>
<text x="336.4" y="858.4">0.012</text>
<text x="336.4" y="831.1">0.014</text>
<text x="336.4" y="803.8">0.016</text>
<text x="336.4" y="776.5">0.018</text>
<text x="336.4" y="749.2">0.02</text>
</g>
<g font-family="Liberation Sans, sans-serif" font-size="14.8" fill="#4a4a4a" stroke="#4a4a4a" stroke-width="0.3" text-anchor="middle">
<text x="380.0" y="1035.3">0</text>
<text x="413.1" y="1035.3">0.1</text>
<text x="446.3" y="1035.3">0.2</text>
<text x="479.4" y="1035.3">0.3</text>
<text x="512.6" y="1035.3">0.4</text>
<text x="545.7" y="1035.3">0.5</text>
<text x="578.8" y="1035.3">0.6</text>
<text x="612.0" y="1035.3">0.7</text>
<text x="645.1" y="1035.3">0.8</text>
<text x="678.3" y="1035.3">0.9</text>
<text x="711.4" y="1035.3">1</text>
<text x="744.5" y="1035.3">1.1</text>
<text x="777.7" y="1035.3">1.2</text>
<text x="810.8" y="1035.3">1.3</text>
<text x="844.0" y="1035.3">1.4</text>
<text x="877.1" y="1035.3">1.5</text>
</g>
<g font-family="Liberation Sans, sans-serif" font-size="13.2" fill="#111">
<text x="618" y="1083.8" text-anchor="middle" textLength="132" lengthAdjust="spacingAndGlyphs">Width of Cut, Ar (mm)</text>
<text transform="translate(308.2,862.5) rotate(-90)" text-anchor="middle" textLength="133" lengthAdjust="spacingAndGlyphs">Surface Finish, h (mm)</text>
</g>
</svg>
<svg width="1200" height="1553" viewBox="0 0 1200 1553">
<g font-family="Liberation Sans, sans-serif" font-weight="bold" font-size="15.2" fill="#0e5d6c" stroke="#0e5d6c" stroke-width="0.5">
<text x="107.6" y="1516.8" font-size="16" textLength="203" lengthAdjust="spacingAndGlyphs">WWW.OSGTOOL.COM</text>
<text x="1027.2" y="1517.8" font-size="15.6" textLength="37" lengthAdjust="spacingAndGlyphs">PFB</text>
<text x="1070.6" y="1517.2" font-weight="normal" stroke-width="0.2" font-size="15.5">|</text>
<text x="1080.6" y="1517.8" font-size="15.6" textLength="22" lengthAdjust="spacingAndGlyphs">191</text>
</g>
<path d="M607.65 1483.52 A19 19 0 0 1 615.55 1494.42 A8.89 8.89 0 0 0 618.48 1509.65 A19 19 0 0 1 607.58 1517.55 A8.89 8.89 0 0 0 592.35 1520.48 A19 19 0 0 1 584.45 1509.58 A8.89 8.89 0 0 0 581.52 1494.35 A19 19 0 0 1 592.42 1486.45 A8.89 8.89 0 0 0 607.65 1483.52 Z" fill="#1664b0"/>
<text x="599.8" y="1507.4" text-anchor="middle" font-family="Liberation Serif, serif" font-size="16" fill="#eef8ff" stroke="#eef8ff" stroke-width="0.35" textLength="19.5" lengthAdjust="spacingAndGlyphs">OSG</text>
</svg>
</body></html>
